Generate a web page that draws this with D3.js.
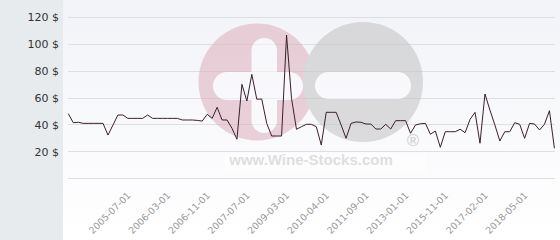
<!DOCTYPE html>
<html>
<head>
<meta charset="utf-8">
<script src="https://cdn.jsdelivr.net/npm/d3@7"></script>
<style>
  body { margin: 0; background: #fff; }
  svg { display: block; }
  .y-axis text { font-family: "DejaVu Sans", Verdana, sans-serif; font-size: 11px; fill: #333; }
  .x-axis text { font-family: "DejaVu Sans", Verdana, sans-serif; font-size: 9.4px; fill: #999; }
</style>
</head>
<body>
<div id="chart"></div>
<script>
// monthly prices, one point per month that has a quote
const prices = [
    48, 41.3, 41.6, 40.8, 40.8, 40.8, 40.8, 40.8, 32.1, 39.5,
    47, 47, 44.5, 44.5, 44.5, 44.5, 47, 44.5, 44.5, 44.5,
    44.5, 44.5, 44.5, 43.3, 43.3, 43.3, 43, 42.5, 47.5, 44.5,
    52.7, 43.3, 43.3, 37.1, 29, 69.8, 57.4, 77.2, 58.7, 58.9,
    40.8, 31.4, 31.4, 31.4, 106.4, 59.4, 36.4, 38.3, 40.1, 40.1,
    38.3, 24.7, 49, 49, 49, 39.6, 29.7, 40.8, 41.8, 41.6,
    40.3, 40.3, 36.6, 36.6, 40.1, 36.6, 42.8, 42.8, 42.8, 33.4,
    39.6, 40.5, 40.8, 32.7, 35.1, 23, 34.6, 34.6, 34.6, 36.4,
    33.9, 43.8, 49, 26, 62.6, 50.7, 39.6, 27.7, 34.6, 34.6,
    41.3, 40.1, 29.7, 40.8, 40.3, 35.9, 40.1, 50.2, 22.3
];

// labelled dates and the point they belong to
const tickLabels = ["2005-07-01", "2006-03-01", "2006-11-01", "2007-07-01", "2009-03-01",
    "2010-04-01", "2011-09-01", "2013-01-01", "2015-11-01", "2017-02-01", "2018-05-01"];
const tickIndex = [12, 20, 28, 36, 44, 52, 60, 68, 76, 84, 92];

const yTicks = [20, 40, 60, 80, 100, 120];
const gridValues = [0, 20, 40, 60, 80, 100, 120];

const width = 560, height = 240;
const plotLeft = 63;

let svg = d3.select("#chart").append("svg")
    .attr("width", width)
    .attr("height", height);

// background
let defs = svg.append("defs");
let grad = defs.append("linearGradient")
    .attr("id", "bg-grad")
    .attr("x1", 0).attr("y1", 0).attr("x2", 0).attr("y2", 1);
grad.append("stop").attr("offset", "0%").attr("stop-color", "#f2f3f8");
grad.append("stop").attr("offset", "100%").attr("stop-color", "#ffffff");

svg.append("rect")
    .attr("x", 0).attr("y", 0)
    .attr("width", plotLeft).attr("height", height)
    .attr("fill", "#e7ebee");

svg.append("rect")
    .attr("x", plotLeft).attr("y", 0)
    .attr("width", width - plotLeft).attr("height", height)
    .attr("fill", "url(#bg-grad)");

// scales
let x = d3.scaleLinear()
    .domain([0, prices.length - 1])
    .range([68.3, 554.4]);

let y = d3.scaleLinear()
    .domain([0, 120])
    .range([178.3, 16.7]);

// grid lines
svg.append("g")
    .attr("class", "grid")
    .selectAll("line")
    .data(gridValues)
    .enter()
    .append("line")
    .attr("x1", 68)
    .attr("x2", 555)
    .attr("y1", d => Math.round(y(d)) + 0.5)
    .attr("y2", d => Math.round(y(d)) + 0.5)
    .attr("stroke", "#dedfe3")
    .attr("stroke-width", 1);

// watermark
let wm = svg.append("g").attr("opacity", 0.55);
wm.append("circle").attr("cx", 257).attr("cy", 82).attr("r", 58.5).attr("fill", "#dcaebb");
wm.append("circle").attr("cx", 363).attr("cy", 82).attr("r", 60).attr("fill", "#c2c2c2");
wm.append("rect").attr("x", 213).attr("y", 72).attr("width", 90).attr("height", 28).attr("rx", 14).attr("fill", "#fafafd");
wm.append("rect").attr("x", 251.5).attr("y", 38).attr("width", 25.5).attr("height", 95).attr("rx", 12.5).attr("fill", "#fafafd");
wm.append("rect").attr("x", 315).attr("y", 72).attr("width", 96).attr("height", 27).attr("rx", 13.5).attr("fill", "#fafafd");
wm.append("rect").attr("x", 225).attr("y", 153).attr("width", 202).attr("height", 20).attr("fill", "#ffffff");
wm.append("text")
    .attr("x", 311).attr("y", 165)
    .attr("text-anchor", "middle")
    .style("font-family", "'Liberation Sans', Arial, sans-serif")
    .style("font-weight", "bold")
    .style("font-size", "15px")
    .attr("fill", "#c8c8c8")
    .text("www.Wine-Stocks.com");
wm.append("text")
    .attr("x", 413).attr("y", 146)
    .attr("text-anchor", "middle")
    .style("font-family", "'Liberation Sans', Arial, sans-serif")
    .style("font-weight", "bold")
    .style("font-size", "17px")
    .attr("fill", "#b8b8b8")
    .text("®");

// y axis labels
let yAxis = d3.axisLeft(y)
    .tickValues(yTicks)
    .tickSize(0)
    .tickPadding(4)
    .tickFormat(d => d + " $");

svg.append("g")
    .attr("class", "y-axis")
    .attr("transform", "translate(63,0)")
    .call(yAxis)
    .call(g => g.select(".domain").remove());

svg.selectAll(".y-axis text").attr("dy", "0.35em");

// x axis labels
let xAxis = d3.axisBottom(x)
    .tickValues(tickIndex)
    .tickSize(0)
    .tickFormat((d, i) => tickLabels[i]);

svg.append("g")
    .attr("class", "x-axis")
    .attr("transform", "translate(0,178)")
    .call(xAxis)
    .call(g => g.select(".domain").remove())
    .selectAll("text")
    .attr("text-anchor", "end")
    .attr("dy", null)
    .attr("y", 0)
    .attr("transform", "translate(3,18) rotate(-45)");

// price line
let line = d3.line()
    .x((d, i) => x(i))
    .y(d => y(d));

svg.append("path")
    .datum(prices)
    .attr("d", line)
    .attr("fill", "none")
    .attr("stroke", "#3b1f2b")
    .attr("stroke-width", 1);
</script>
</body>
</html>
